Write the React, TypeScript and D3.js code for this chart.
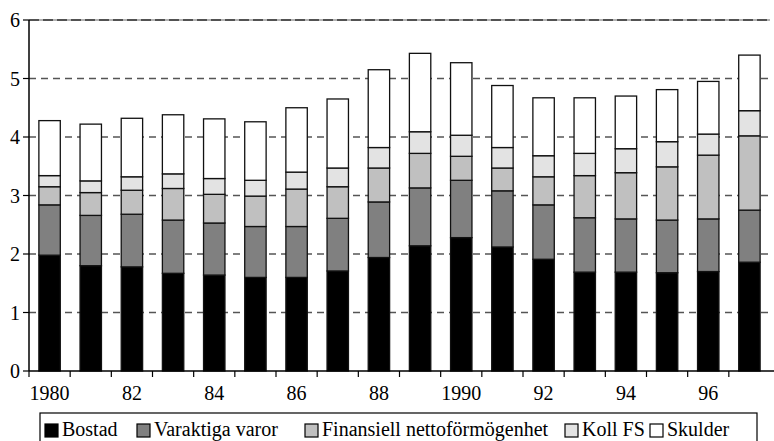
import React from "react";
import * as d3 from "d3";

const years = [1980,1981,1982,1983,1984,1985,1986,1987,1988,1989,1990,1991,1992,1993,1994,1995,1996,1997];
const tickLabels = ["1980","82","84","86","88","1990","92","94","96"];
const seriesNames = ["Bostad","Varaktiga varor","Finansiell nettoförmögenhet","Koll FS","Skulder"];
const bostad =     [1.98,1.80,1.78,1.67,1.64,1.60,1.60,1.71,1.94,2.14,2.28,2.12,1.91,1.69,1.69,1.68,1.70,1.86];
const varaktiga =  [0.86,0.86,0.90,0.91,0.89,0.87,0.87,0.90,0.95,0.99,0.98,0.96,0.93,0.93,0.91,0.90,0.90,0.89];
const finansiell = [0.31,0.39,0.41,0.54,0.49,0.52,0.64,0.54,0.58,0.59,0.41,0.39,0.48,0.72,0.79,0.91,1.09,1.27];
const kollFS =     [0.19,0.20,0.23,0.25,0.27,0.27,0.29,0.32,0.35,0.37,0.36,0.35,0.36,0.38,0.41,0.43,0.36,0.43];
const skulder =    [0.94,0.97,1.00,1.01,1.02,1.00,1.10,1.18,1.33,1.34,1.24,1.06,0.99,0.95,0.90,0.89,0.90,0.95];
const yTicks = [0,1,2,3,4,5,6];
const colors = ["#000000","#808080","#c0c0c0","#e3e3e3","#ffffff"];

export default function App() {
  const W = 774, H = 441;
  const left = 29, right = 770, top = 20, bottom = 371;
  const x = d3.scaleBand<number>().domain(years).range([left, right]).paddingInner(0.48).paddingOuter(0.24);
  const step = x.step();
  const y = d3.scaleLinear().domain([0, 6]).range([bottom, top]);
  const seriesData = [bostad, varaktiga, finansiell, kollFS, skulder];
  const rows = years.map((yr, i) => {
    const o: any = { year: yr };
    seriesNames.forEach((n, k) => (o[n] = seriesData[k][i]));
    return o;
  });
  const stack = d3.stack<any>().keys(seriesNames)(rows);
  const font = "'Liberation Serif', 'Times New Roman', serif";

  // legend layout
  const legendFont = 20;
  const legendX = 40, legendY = 413, legendW = 717, legendH = 32;
  const legendPos = [45, 137, 305, 565, 650];

  return (
    <svg width={W} height={H} style={{ position: "absolute", left: 0, top: 0, background: "#fff" }}>
      {/* gridlines */}
      {yTicks.filter((t) => t > 0).map((t) => (
        <g key={t}>
          {t === 6 && <line x1={left} x2={right} y1={y(t)} y2={y(t)} stroke="#999" strokeWidth={1.5} />}
          <line x1={left} x2={right} y1={y(t)} y2={y(t)} stroke={t === 6 ? "#333" : "#555"} strokeWidth={1.5}
            strokeDasharray={t === 6 ? "10,4" : "7,5"} />
        </g>
      ))}
      {/* bars */}
      {stack.map((s, k) => (
        <g key={k}>
          {s.map((d, i) => (
            <rect key={i} x={x(years[i])} width={x.bandwidth()} y={y(d[1])} height={y(d[0]) - y(d[1])}
              fill={colors[k]} stroke="#111" strokeWidth={1.3} />
          ))}
        </g>
      ))}
      {/* axes */}
      <line x1={left} x2={left} y1={top} y2={bottom} stroke="#000" strokeWidth={1.5} />
      <line x1={left} x2={W} y1={bottom} y2={bottom} stroke="#000" strokeWidth={1.5} />
      {yTicks.map((t) => (
        <g key={t}>
          <line x1={left - 6} x2={left} y1={y(t)} y2={y(t)} stroke="#000" strokeWidth={1.2} />
          <text x={left - 9} y={y(t)} dy="0.35em" textAnchor="end" fontFamily={font} fontSize={20}>{t}</text>
        </g>
      ))}
      {d3.range(years.length).map((i) => (
        <line key={i} x1={left + i * step} x2={left + i * step} y1={bottom} y2={bottom + 6} stroke="#000" strokeWidth={1.2} />
      ))}
      {tickLabels.map((lab, j) => (
        <text key={lab} x={(x(years[j * 2]) as number) + x.bandwidth() / 2} y={400} textAnchor="middle"
          fontFamily={font} fontSize={20}>{lab}</text>
      ))}
      {/* legend */}
      <rect x={legendX} y={legendY} width={legendW} height={legendH} fill="none" stroke="#000" strokeWidth={1.2} />
      {seriesNames.map((n, k) => (
        <g key={n}>
          <rect x={legendPos[k]} y={legendY + 11} width={13} height={13} fill={colors[k]} stroke="#000" strokeWidth={1.2} />
          <text x={legendPos[k] + 17} y={legendY + 23} fontFamily={font} fontSize={legendFont}>{n}</text>
        </g>
      ))}
    </svg>
  );
}
